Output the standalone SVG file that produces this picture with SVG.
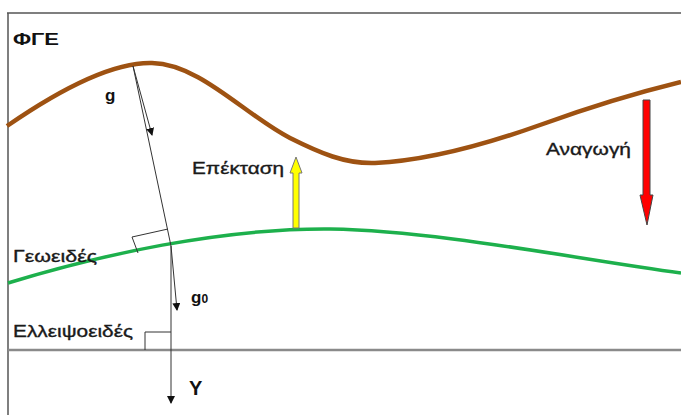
<svg xmlns="http://www.w3.org/2000/svg" width="681" height="415" viewBox="0 0 681 415">
<style>
.lbl{font-family:"Liberation Sans",Arial,sans-serif;font-size:16.5px;fill:#1a1a1a;stroke:#1a1a1a;stroke-width:0.35}
.bold{font-family:"Liberation Sans",Arial,sans-serif;font-weight:bold;fill:#111}
.thin{fill:none;stroke:#333;stroke-width:1}
</style>
<defs>
<marker id="ah" markerWidth="8" markerHeight="8" refX="7" refY="4" orient="auto" markerUnits="userSpaceOnUse">
<path d="M0,0 L8,4 L0,8 Z" fill="#111"/>
</marker>
</defs>
<rect width="681" height="415" fill="#fff"/>
<g id="frame">
<path d="M7,13 H681 M8,13 V415" fill="none" stroke="#555" stroke-width="1.5"/>
</g>
<g id="ellipsoid">
<line x1="8" y1="350" x2="681" y2="350" stroke="#8a8a8a" stroke-width="2.5"/>
</g>
<g id="geoid">
<path d="M8,283 C100,255 220,228 330,229 C440,231 570,258 681,273" fill="none" stroke="#1DB04C" stroke-width="3.5"/>
</g>
<g id="terrain">
<path d="M7,126 C65,86 115,62 152,63 C200,64 245,115 290,138 C320,153 345,164 375,163 C420,161 470,150 540,125 C590,107 640,92 681,82" fill="none" stroke="#9E5212" stroke-width="4.5"/>
</g>
<g id="connectors">
<line class="thin" x1="133" y1="66" x2="171" y2="246"/>
<line class="thin" x1="133" y1="66" x2="152" y2="135" marker-end="url(#ah)"/>
<line class="thin" x1="171" y1="246" x2="177" y2="310" marker-end="url(#ah)"/>
<line class="thin" x1="171" y1="246" x2="171" y2="403" marker-end="url(#ah)"/>
<polyline class="thin" points="138,253 132,237 168,229"/>
<polyline class="thin" points="145,350 145,332 171,332"/>
</g>
<g id="extension">
<path d="M293,228 V173 H290 L296,157 L302,173 H299 V228 Z" fill="#FFFF00" stroke="#777" stroke-width="1"/>
</g>
<g id="reduction">
<path d="M643,100 H650 V195 H653 L647,225 L640,195 H643 Z" fill="#FF0000" stroke="#444" stroke-width="1"/>
</g>
<g id="labels">
<text class="bold" x="13" y="45" font-size="17" textLength="46" lengthAdjust="spacingAndGlyphs">ΦΓΕ</text>
<text class="bold" x="105" y="101" font-size="17">g</text>
<text class="lbl" x="192" y="174" textLength="92" lengthAdjust="spacingAndGlyphs">Επέκταση</text>
<text class="lbl" x="546" y="155" textLength="85" lengthAdjust="spacingAndGlyphs">Αναγωγή</text>
<text class="lbl" x="13" y="262" textLength="84" lengthAdjust="spacingAndGlyphs">Γεωειδές</text>
<text class="lbl" x="13" y="337" textLength="120" lengthAdjust="spacingAndGlyphs">Ελλειψοειδές</text>
<text class="bold" x="191" y="303" font-size="17">g<tspan font-size="12">0</tspan></text>
<text class="bold" x="189" y="395" font-size="20">Y</text>
</g>
</svg>
